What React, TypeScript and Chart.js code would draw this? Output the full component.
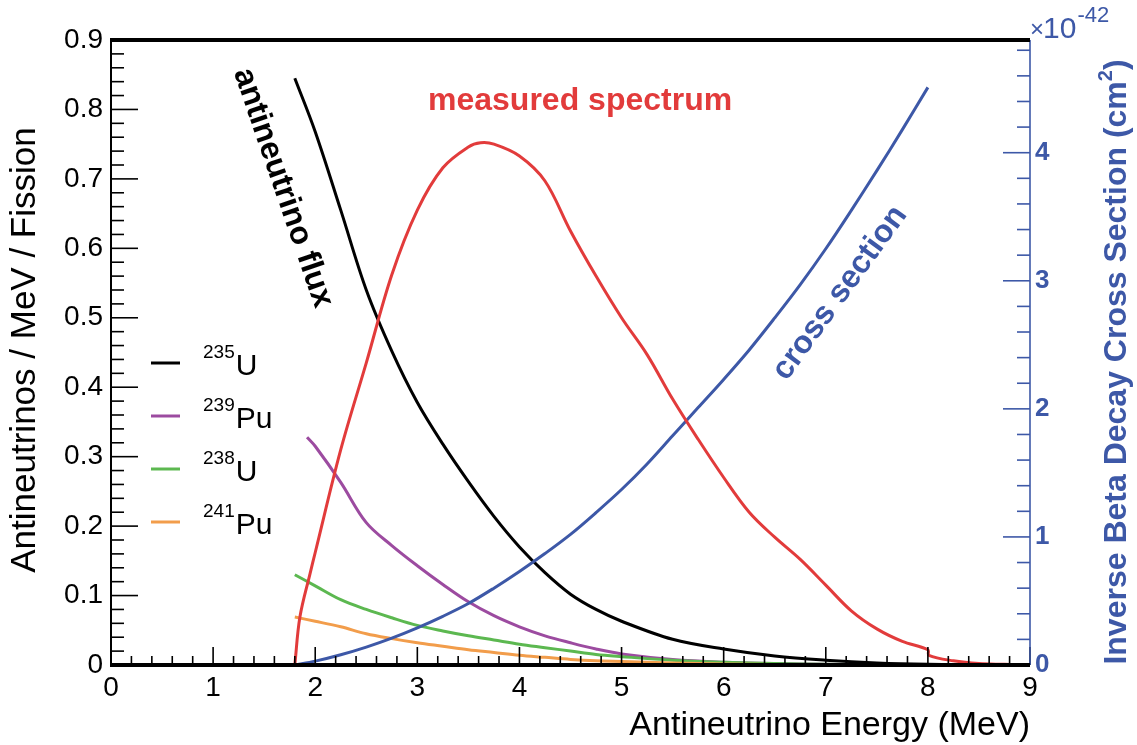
import React, { useEffect, useRef } from 'react';
import { Chart, registerables } from 'chart.js';

Chart.register(...registerables);

// ---------------- data ----------------
const fluxEnergy = [1.8, 2.0, 2.25, 2.5, 2.75, 3.0, 3.25, 3.5, 3.75, 4.0, 4.25, 4.5, 4.75, 5.0, 5.5, 6.0, 6.5, 7.0, 7.5, 8.0, 8.5, 9.0];
const u235Flux = [0.845, 0.768, 0.655, 0.54, 0.452, 0.378, 0.318, 0.264, 0.214, 0.17, 0.133, 0.102, 0.08, 0.063, 0.037, 0.023, 0.013, 0.007, 0.003, 0.001, 0.0005, 0];
const u238Flux = [0.13, 0.114, 0.094, 0.08, 0.068, 0.057, 0.049, 0.042, 0.036, 0.03, 0.025, 0.02, 0.015, 0.012, 0.007, 0.004, 0.002, 0.001, 0.0006, 0.0003, 0.0001, 0];
const pu241Flux = [0.069, 0.063, 0.055, 0.045, 0.038, 0.032, 0.027, 0.022, 0.018, 0.014, 0.011, 0.008, 0.006, 0.005, 0.003, 0.0015, 0.0008, 0.0005, 0.0002, 0.0001, 0, 0];

const pu239Energy = [1.92, 2.0, 2.25, 2.5, 2.75, 3.0, 3.25, 3.5, 3.75, 4.0, 4.25, 4.5, 4.75, 5.0, 5.5, 6.0, 6.5, 7.0, 7.5, 8.0, 8.5, 9.0];
const pu239Flux = [0.328, 0.315, 0.263, 0.205, 0.172, 0.143, 0.116, 0.091, 0.071, 0.055, 0.042, 0.032, 0.023, 0.016, 0.008, 0.004, 0.002, 0.001, 0.0006, 0.0003, 0.0001, 0];

const spectrumEnergy = [1.8, 1.85, 1.95, 2.0, 2.25, 2.5, 2.75, 3.0, 3.25, 3.5, 3.62, 3.75, 4.0, 4.25, 4.5, 4.75, 5.0, 5.25, 5.5, 5.75, 6.0, 6.25, 6.5, 6.75, 7.0, 7.25, 7.5, 7.75, 8.0, 8.01, 8.25, 8.5, 8.75, 9.0];
const measuredSpectrum = [0, 0.069, 0.132, 0.162, 0.31, 0.435, 0.562, 0.655, 0.716, 0.746, 0.752, 0.75, 0.733, 0.697, 0.625, 0.56, 0.5, 0.447, 0.383, 0.325, 0.27, 0.22, 0.184, 0.152, 0.115, 0.078, 0.052, 0.034, 0.022, 0.014, 0.006, 0.002, 0.001, 0];

const crossSectionEnergy = [1.8, 2.0, 2.25, 2.5, 2.75, 3.0, 3.25, 3.5, 3.75, 4.0, 4.25, 4.5, 4.75, 5.0, 5.25, 5.5, 5.75, 6.0, 6.25, 6.5, 6.75, 7.0, 7.25, 7.5, 7.75, 8.0];
const crossSection = [0, 0.03, 0.08, 0.14, 0.21, 0.29, 0.38, 0.48, 0.6, 0.73, 0.87, 1.02, 1.19, 1.37, 1.57, 1.79, 2.01, 2.23, 2.46, 2.71, 2.97, 3.25, 3.55, 3.86, 4.18, 4.51];

const xTicks = [0, 1, 2, 3, 4, 5, 6, 7, 8, 9];
const leftTicks = [0, 0.1, 0.2, 0.3, 0.4, 0.5, 0.6, 0.7, 0.8, 0.9];
const rightTicks = [0, 1, 2, 3, 4];

const legendMass = ['235', '239', '238', '241'];
const legendElement = ['U', 'Pu', 'U', 'Pu'];

// ---------------- styles ----------------
const FONT = '"Liberation Sans", Arial, Helvetica, sans-serif';
const BLACK = '#000000';
const RED = '#e23b3b';
const BLUE = '#3d58a7';
const PURPLE = '#9c4ba0';
const GREEN = '#5cb850';
const ORANGE = '#f29d4b';
const legendColors = [BLACK, PURPLE, GREEN, ORANGE];

const pts = (xs: number[], ys: number[]) => xs.map((x, i) => ({ x, y: ys[i] }));

const line = (ctx: CanvasRenderingContext2D, x1: number, y1: number, x2: number, y2: number) => {
  ctx.beginPath();
  ctx.moveTo(x1, y1);
  ctx.lineTo(x2, y2);
  ctx.stroke();
};

const rootPlugin = {
  id: 'rootStyle',
  afterDatasetsDraw(chart: any) {
    const { ctx, chartArea: a, scales } = chart;
    const sx = scales.x;
    const sy = scales.y;
    const sr = scales.y1;
    ctx.save();

    // left axis line + ticks
    ctx.strokeStyle = BLACK;
    ctx.lineWidth = 2;
    line(ctx, a.left, a.top, a.left, a.bottom);
    ctx.lineWidth = 1.6;
    for (let i = 0; i <= 45; i++) {
      const v = i * 0.02;
      const py = sy.getPixelForValue(v);
      line(ctx, a.left, py, a.left + (i % 5 === 0 ? 27 : 13), py);
    }

    // x axis ticks
    for (let i = 0; i <= 45; i++) {
      const v = i * 0.2;
      const px = sx.getPixelForValue(v);
      line(ctx, px, a.bottom, px, a.bottom - (i % 5 === 0 ? 18 : 9));
    }

    // right axis
    ctx.strokeStyle = BLUE;
    ctx.lineWidth = 1.6;
    line(ctx, a.right, a.top, a.right, a.bottom);
    for (let i = 0; i <= 24; i++) {
      const v = i * 0.2;
      const py = sr.getPixelForValue(v);
      if (py < a.top) continue;
      line(ctx, a.right, py, a.right - (i % 5 === 0 ? 27 : 13), py);
    }

    // thick top and bottom frame
    ctx.strokeStyle = BLACK;
    ctx.lineWidth = 4;
    line(ctx, a.left - 1, a.top, a.right, a.top);
    line(ctx, a.left - 1, a.bottom, a.right, a.bottom);

    // ---- axis titles ----
    ctx.fillStyle = BLACK;
    ctx.font = `34px ${FONT}`;
    ctx.textAlign = 'right';
    ctx.textBaseline = 'alphabetic';
    ctx.fillText('Antineutrino Energy (MeV)', a.right, 735);

    ctx.save();
    ctx.font = `35px ${FONT}`;
    ctx.translate(35, 350);
    ctx.rotate(-Math.PI / 2);
    ctx.textAlign = 'center';
    ctx.fillText('Antineutrinos / MeV / Fission', 0, 0);
    ctx.restore();

    // right title with superscript
    ctx.save();
    ctx.fillStyle = BLUE;
    const mainFont = `bold 32px ${FONT}`;
    const supFont = `bold 20px ${FONT}`;
    ctx.font = mainFont;
    const p1 = 'Inverse Beta Decay Cross Section (cm';
    const p3 = ')';
    const w1 = ctx.measureText(p1).width;
    const w3 = ctx.measureText(p3).width;
    ctx.font = supFont;
    const w2 = ctx.measureText('2').width;
    const total = w1 + w2 + w3;
    ctx.translate(1126, 362);
    ctx.rotate(-Math.PI / 2);
    ctx.textAlign = 'left';
    let cx = -total / 2;
    ctx.font = mainFont;
    ctx.fillText(p1, cx, 0);
    cx += w1;
    ctx.font = supFont;
    ctx.fillText('2', cx, -14);
    cx += w2;
    ctx.font = mainFont;
    ctx.fillText(p3, cx, 0);
    ctx.restore();

    // x10^-42
    ctx.fillStyle = BLUE;
    ctx.textAlign = 'left';
    ctx.font = `24px ${FONT}`;
    ctx.fillText('\u00d7', 1030, 37);
    const wx = ctx.measureText('\u00d7').width;
    ctx.font = `30px ${FONT}`;
    ctx.fillText('10', 1030 + wx - 1, 38);
    const w10 = ctx.measureText('10').width;
    ctx.font = `22px ${FONT}`;
    ctx.fillText('-42', 1030 + wx + w10, 22);

    // ---- annotations ----
    ctx.font = `bold 32px ${FONT}`;
    ctx.fillStyle = RED;
    ctx.textAlign = 'left';
    ctx.fillText('measured spectrum', 428, 110);

    ctx.save();
    ctx.fillStyle = BLACK;
    ctx.translate(283, 188);
    ctx.rotate((71 * Math.PI) / 180);
    ctx.textAlign = 'center';
    ctx.textBaseline = 'middle';
    ctx.fillText('antineutrino flux', 0, 0);
    ctx.restore();

    ctx.save();
    ctx.fillStyle = BLUE;
    ctx.translate(840, 293);
    ctx.rotate((-54 * Math.PI) / 180);
    ctx.textAlign = 'center';
    ctx.textBaseline = 'middle';
    ctx.fillText('cross section', 0, 0);
    ctx.restore();

    // ---- legend ----
    legendMass.forEach((mass, i) => {
      const ly = 363 + i * 53;
      ctx.strokeStyle = legendColors[i];
      ctx.lineWidth = 3;
      line(ctx, 151, ly, 180, ly);
      ctx.fillStyle = BLACK;
      ctx.textAlign = 'left';
      ctx.textBaseline = 'alphabetic';
      ctx.font = `19px ${FONT}`;
      ctx.fillText(mass, 203, ly - 5);
      const wm = ctx.measureText(mass).width;
      ctx.font = `30px ${FONT}`;
      ctx.fillText(legendElement[i], 203 + wm + 1, ly + 12);
    });

    ctx.restore();
  },
};

export default function App() {
  const ref = useRef<HTMLCanvasElement>(null);

  useEffect(() => {
    document.body.style.margin = '0';
    document.body.style.overflow = 'hidden';
    const canvas = ref.current;
    if (!canvas) return;

    const ds = (label: string, data: any[], color: string, axis: string, width = 3) => ({
      label,
      data,
      borderColor: color,
      backgroundColor: color,
      borderWidth: width,
      pointRadius: 0,
      fill: false,
      tension: 0.35,
      yAxisID: axis,
    });

    const chart = new Chart(canvas, {
      type: 'line',
      data: {
        datasets: [
          ds('measured spectrum', pts(spectrumEnergy, measuredSpectrum), RED, 'y'),
          ds('cross section', pts(crossSectionEnergy, crossSection), BLUE, 'y1'),
          ds('241Pu', pts(fluxEnergy, pu241Flux), ORANGE, 'y'),
          ds('238U', pts(fluxEnergy, u238Flux), GREEN, 'y'),
          ds('239Pu', pts(pu239Energy, pu239Flux), PURPLE, 'y'),
          ds('235U', pts(fluxEnergy, u235Flux), BLACK, 'y'),
        ],
      },
      options: {
        responsive: false,
        animation: false,
        layout: { padding: { top: 40, left: 0, right: 0, bottom: 0 } },
        plugins: { legend: { display: false }, tooltip: { enabled: false } },
        scales: {
          x: {
            type: 'linear',
            min: 0,
            max: 9,
            grid: { display: false, drawTicks: false },
            border: { display: false },
            ticks: {
              autoSkip: false,
              maxRotation: 0,
              padding: 6,
              color: BLACK,
              font: { family: FONT, size: 28 },
              callback: (v: any) => String(v),
            },
            afterBuildTicks: (s: any) => {
              s.ticks = xTicks.map((value) => ({ value }));
            },
            afterFit: (s: any) => {
              s.height = 80;
            },
          },
          y: {
            type: 'linear',
            position: 'left',
            min: 0,
            max: 0.9,
            grid: { display: false, drawTicks: false },
            border: { display: false },
            ticks: {
              autoSkip: false,
              padding: 8,
              color: BLACK,
              font: { family: FONT, size: 28 },
              callback: (v: any) => (Number(v) === 0 ? '0' : Number(v).toFixed(1)),
            },
            afterBuildTicks: (s: any) => {
              s.ticks = leftTicks.map((value) => ({ value }));
            },
            afterFit: (s: any) => {
              s.width = 111;
            },
          },
          y1: {
            type: 'linear',
            position: 'right',
            min: 0,
            max: 4.88,
            grid: { display: false, drawTicks: false },
            border: { display: false },
            ticks: {
              autoSkip: false,
              padding: 5,
              color: BLUE,
              font: { family: FONT, size: 26, weight: 'bold' },
              callback: (v: any) => String(v),
            },
            afterBuildTicks: (s: any) => {
              s.ticks = rightTicks.map((value) => ({ value }));
            },
            afterFit: (s: any) => {
              s.width = 107;
            },
          },
        },
      },
      plugins: [rootPlugin],
    });

    return () => chart.destroy();
  }, []);

  return (
    <div style={{ width: 1137, height: 745, background: '#fff' }}>
      <canvas ref={ref} width={1137} height={745} style={{ display: 'block', width: 1137, height: 745 }} />
    </div>
  );
}
